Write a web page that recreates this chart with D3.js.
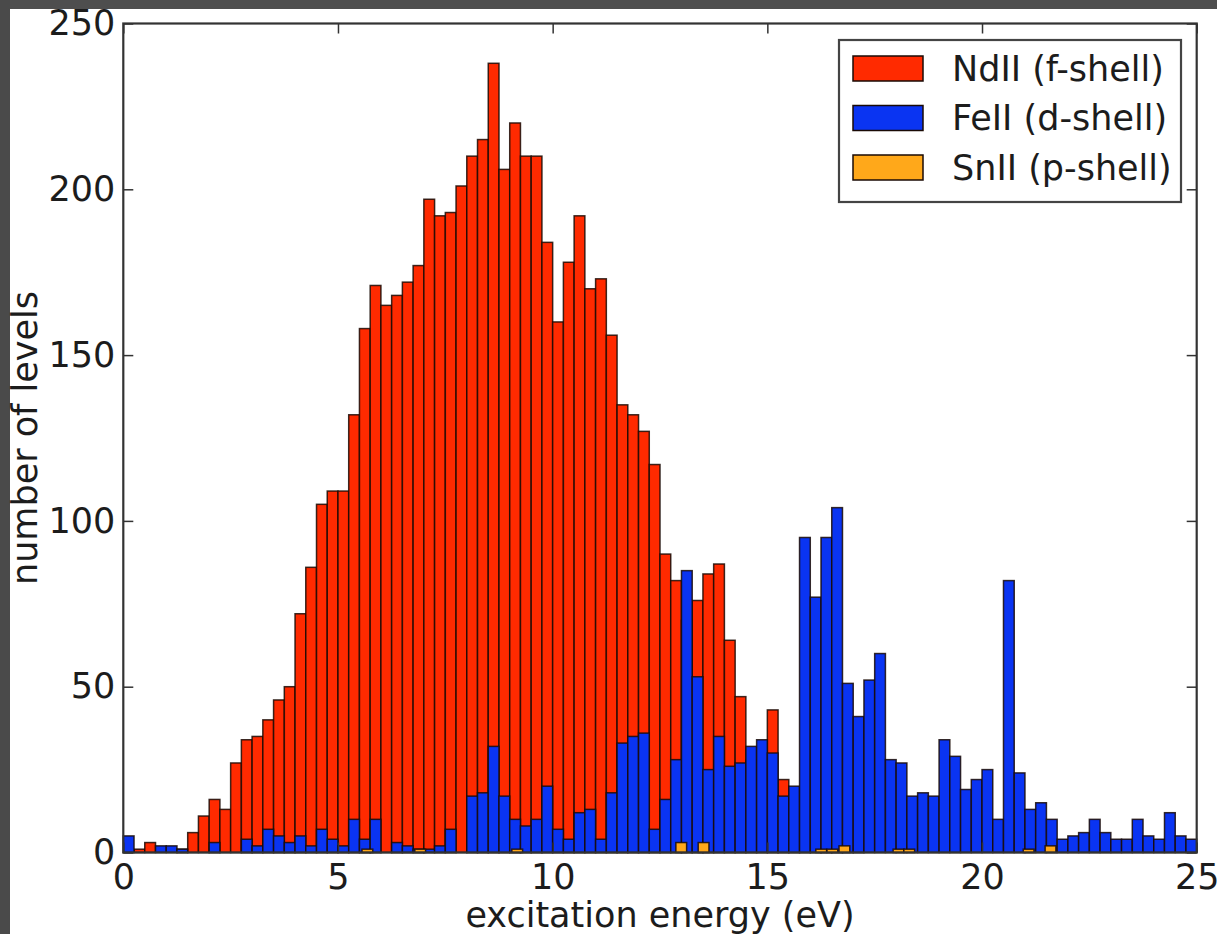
<!DOCTYPE html>
<html>
<head>
<meta charset="utf-8">
<script src="https://cdn.jsdelivr.net/npm/d3@7"></script>
<style>
  html, body { margin: 0; padding: 0; background: #ffffff; }
  svg { display: block; }
  text { font-family: "DejaVu Sans", sans-serif; fill: #1c1c1c; }
</style>
</head>
<body>
<svg id="chart" width="1217" height="934"></svg>
<script>
// ---------- data ----------
const binWidth = 0.25;            // eV per bin
const binStarts = d3.range(0, 25, binWidth); // 100 bins from 0 to 25 eV

const ndII = [ // NdII (f-shell)
  0, 1, 3, 0, 0, 1, 6, 11, 16, 13,
  27, 34, 35, 40, 46, 50, 72, 86, 105, 109,
  109, 132, 158, 171, 165, 168, 172, 177, 197, 192,
  193, 201, 210, 215, 238, 206, 220, 210, 210, 184,
  160, 178, 192, 170, 173, 156, 135, 132, 127, 117,
  90, 82, 70, 76, 84, 87, 64, 47, 28, 25,
  43, 22, 12, 8, 5, 4, 3, 2, 1, 0,
  0, 0, 0, 0, 0, 0, 0, 0, 0, 0,
  0, 0, 0, 0, 0, 0, 0, 0, 0, 0,
  0, 0, 0, 0, 0, 0, 0, 0, 0, 0
];

const feII = [ // FeII (d-shell)
  5, 0, 0, 2, 2, 1, 0, 0, 3, 0,
  0, 4, 2, 7, 5, 3, 5, 2, 7, 4,
  2, 10, 4, 10, 0, 3, 2, 1, 1, 2,
  7, 0, 17, 18, 32, 17, 10, 8, 10, 20,
  7, 4, 12, 13, 4, 18, 33, 35, 36, 7,
  16, 28, 85, 53, 25, 35, 26, 27, 32, 34,
  30, 17, 20, 95, 77, 95, 104, 51, 41, 52,
  60, 28, 27, 17, 18, 17, 34, 29, 19, 22,
  25, 10, 82, 24, 13, 15, 10, 4, 5, 6,
  10, 6, 4, 4, 10, 5, 4, 12, 5, 4
];

// SnII (p-shell): only a few occupied bins (left edge in eV, count)
const snIIStart = [5.56, 6.79, 9.05, 12.87, 13.39, 16.13, 16.39, 16.67, 17.93, 18.18, 20.96, 21.47];
const snIICount = [1, 1, 1, 3, 3, 1, 1, 2, 1, 1, 1, 2];

const seriesNames = ["NdII (f-shell)", "FeII (d-shell)", "SnII (p-shell)"];
const seriesColors = ["#ff2a00", "#0a34f2", "#ffa81a"];

const xTicks = [0, 5, 10, 15, 20, 25];
const yTicks = [0, 50, 100, 150, 200, 250];
const xTitle = "excitation energy (eV)";
const yTitle = "number of levels";

(function () {
  // ---------- layout ----------
  const W = 1217, H = 934;
  const mLeft = 123.3, mRight = 1196.7, mTop = 23.5, mBottom = 852.5;
  const FS = 35;

  const svg = d3.select("#chart");

  // dark outer frame (top and left strips)
  svg.append("rect").attr("x", 0).attr("y", 0).attr("width", W).attr("height", H).attr("fill", "#ffffff");
  svg.append("rect").attr("x", 0).attr("y", 0).attr("width", W).attr("height", 9).attr("fill", "#4e4e4e");
  svg.append("rect").attr("x", 0).attr("y", 0).attr("width", 10).attr("height", H).attr("fill", "#4a4a4a");

  const x = d3.scaleLinear().domain([0, 25]).range([mLeft, mRight]);
  const y = d3.scaleLinear().domain([0, 250]).range([mBottom, mTop]);

  const plot = svg.append("g");

  function drawBars(starts, counts, color) {
    const data = starts.map((s, i) => ({ s, c: counts[i] })).filter(d => d.c > 0);
    plot.append("g").selectAll("rect").data(data).join("rect")
      .attr("x", d => x(d.s))
      .attr("width", d => x(d.s + binWidth) - x(d.s))
      .attr("y", d => y(d.c))
      .attr("height", d => y(0) - y(d.c))
      .attr("fill", color)
      .attr("stroke", "#1a0a05")
      .attr("stroke-opacity", 0.85)
      .attr("stroke-width", 1.5);
  }
  drawBars(binStarts, ndII, seriesColors[0]);
  drawBars(binStarts, feII, seriesColors[1]);
  drawBars(snIIStart, snIICount, seriesColors[2]);

  // axes
  const tickLen = 10;
  const gx = svg.append("g").attr("transform", `translate(0,${mBottom})`)
    .call(d3.axisBottom(x).tickValues(xTicks).tickFormat(d3.format("d"))
      .tickSizeInner(-tickLen).tickSizeOuter(0).tickPadding(11.5));
  const gy = svg.append("g").attr("transform", `translate(${mLeft},0)`)
    .call(d3.axisLeft(y).tickValues(yTicks).tickFormat(d3.format("d"))
      .tickSizeInner(-tickLen).tickSizeOuter(0).tickPadding(8));
  const gt = svg.append("g").attr("transform", `translate(0,${mTop})`)
    .call(d3.axisTop(x).tickValues(xTicks).tickFormat("")
      .tickSizeInner(-tickLen).tickSizeOuter(0));
  const gr = svg.append("g").attr("transform", `translate(${mRight},0)`)
    .call(d3.axisRight(y).tickValues(yTicks).tickFormat("")
      .tickSizeInner(-tickLen).tickSizeOuter(0));

  [gx, gy, gt, gr].forEach(g => {
    g.select(".domain").remove();
    g.selectAll(".tick line").attr("stroke", "#333").attr("stroke-width", 1.5);
    g.selectAll(".tick text").attr("font-size", FS).attr("font-family", "DejaVu Sans").attr("fill", "#1c1c1c");
  });

  // frame
  svg.append("rect").attr("x", mLeft).attr("y", mTop)
    .attr("width", mRight - mLeft).attr("height", mBottom - mTop)
    .attr("fill", "none").attr("stroke", "#333").attr("stroke-width", 2.2);

  // axis titles
  svg.append("text").attr("x", (mLeft + mRight) / 2).attr("y", 927)
    .attr("text-anchor", "middle").attr("font-size", FS).text(xTitle);
  svg.append("text").attr("transform", `translate(37,${(mTop + mBottom) / 2}) rotate(-90)`)
    .attr("text-anchor", "middle").attr("font-size", FS).text(yTitle);

  // legend
  const lg = svg.append("g");
  lg.append("rect").attr("x", 839).attr("y", 40).attr("width", 342).attr("height", 162)
    .attr("fill", "#ffffff").attr("stroke", "#444").attr("stroke-width", 2.2);
  seriesNames.forEach((name, i) => {
    const cy = 68.5 + i * 49.5;
    lg.append("rect").attr("x", 853).attr("y", cy - 12.5).attr("width", 70).attr("height", 25)
      .attr("fill", seriesColors[i]).attr("stroke", "#1a0a05").attr("stroke-width", 1.5);
    lg.append("text").attr("x", 952).attr("y", cy + 12).attr("font-size", FS).text(name);
  });
})();
</script>
</body>
</html>
